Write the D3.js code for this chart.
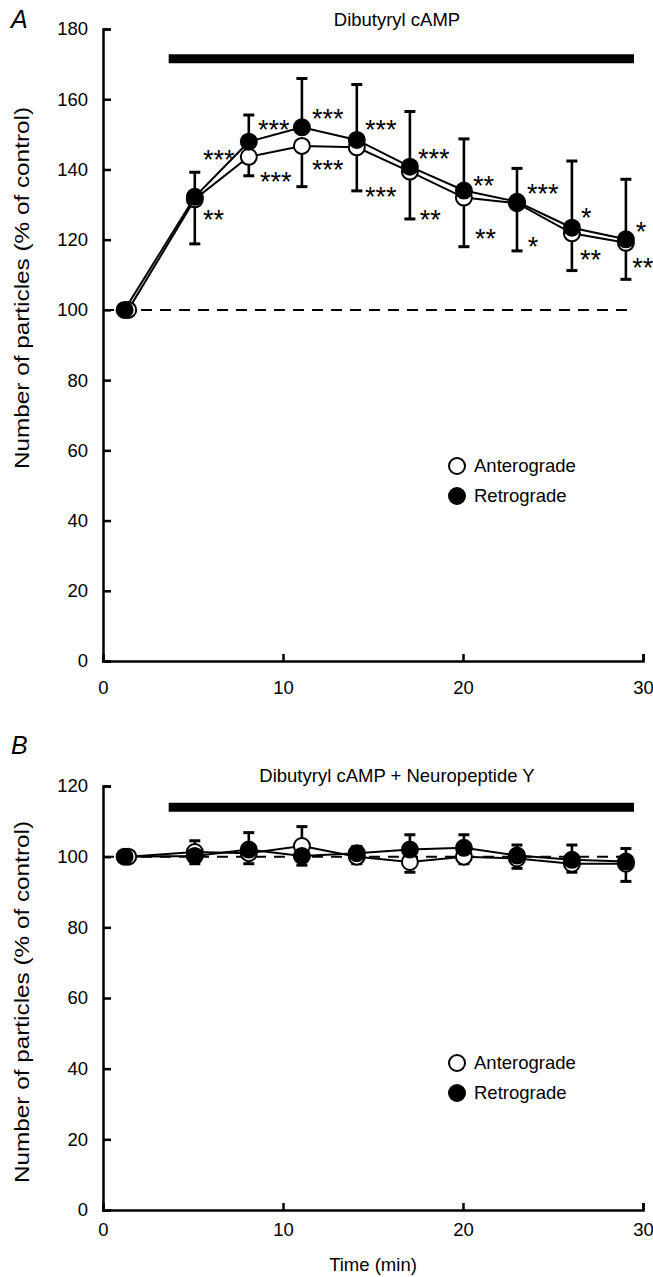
<!DOCTYPE html>
<html>
<head>
<meta charset="utf-8">
<script src="https://cdn.jsdelivr.net/npm/d3@7"></script>
<style>
  html, body { margin: 0; padding: 0; background: #fff; }
  svg { display: block; }
  text { fill: #000; }
</style>
</head>
<body>
<svg id="chart" width="653" height="1277"></svg>
<script>
// ---------------- DATA ----------------
const timesRetro  = [1.2, 5.1, 8.1, 11.05, 14.1, 17.05, 20.05, 23, 26.05, 29.05];
const timesAntero = [1.4, 5.1, 8.1, 11.05, 14.1, 17.05, 20.05, 23, 26.05, 29.05];

// Panel A: Dibutyryl cAMP
const aRetro        = [100, 132.2, 147.9, 152.0, 148.4, 140.8, 134.0, 130.8, 123.4, 120.1];
const aRetroErrUp   = [0, 7.0, 7.6, 13.9, 15.8, 15.7, 14.7, 9.5, 19.0, 17.1];
const aAntero       = [100, 131.5, 143.6, 146.7, 146.3, 139.4, 132.0, 130.4, 121.8, 119.1];
const aAnteroErrDn  = [0, 12.7, 5.4, 11.6, 12.4, 13.5, 14.0, 13.6, 10.6, 10.4];
// significance annotations (anchored in data units: time, value)
const aSigRetro  = [
  {t: 5.56, v: 144.7, s: "***"}, {t: 8.61, v: 153.2, s: "***"}, {t: 11.61, v: 156.4, s: "***"},
  {t: 14.56, v: 153.2, s: "***"}, {t: 17.5, v: 145.0, s: "***"}, {t: 20.56, v: 137.3, s: "**"},
  {t: 23.56, v: 135.0, s: "***"}, {t: 26.56, v: 128.2, s: "*"}, {t: 29.6, v: 124.2, s: "*"}
];
const aSigAntero = [
  {t: 5.56, v: 127.6, s: "**"}, {t: 8.72, v: 138.4, s: "***"}, {t: 11.61, v: 141.9, s: "***"},
  {t: 14.56, v: 134.2, s: "***"}, {t: 17.6, v: 127.6, s: "**"}, {t: 20.67, v: 122.2, s: "**"},
  {t: 23.6, v: 120.0, s: "*"}, {t: 26.5, v: 116.2, s: "**"}, {t: 29.4, v: 114.0, s: "**"}
];

// Panel B: Dibutyryl cAMP + Neuropeptide Y
const bRetro        = [100, 100.2, 102.0, 100.2, 101.0, 102.0, 102.5, 100.3, 99.1, 98.6];
const bRetroErrUp   = [0, 4.3, 4.8, 8.3, 1.9, 4.2, 3.7, 3.0, 4.2, 3.7];
const bAntero       = [100, 101.3, 101.0, 103.0, 100.0, 98.5, 100.0, 99.5, 98.0, 98.0];
const bAnteroErrDn  = [0, 3.3, 3.0, 5.4, 2.0, 2.9, 2.0, 2.8, 2.4, 5.0];

const xTicks  = [0, 10, 20, 30];
const aYTicks = [0, 20, 40, 60, 80, 100, 120, 140, 160, 180];
const bYTicks = [0, 20, 40, 60, 80, 100, 120];
const treatmentSpan = [3.65, 29.5];
const seriesNames = ["Anterograde", "Retrograde"];

// ---------------- DRAW ----------------
const svg = d3.select("#chart");
const FONT = 18.5;
const FAM = '"Liberation Sans", Arial, sans-serif';

function panel(opts) {
  const g = svg.append("g").attr("font-family", FAM);
  const x = d3.scaleLinear().domain([0, 30]).range([103, 643]);
  const y = d3.scaleLinear().domain([0, opts.yMax]).range(opts.yRange);

  g.append("text").attr("x", 11).attr("y", opts.letterY)
    .attr("font-size", 25).attr("font-style", "italic").text(opts.letter);
  g.append("text").attr("x", 397).attr("y", opts.titleY)
    .attr("text-anchor", "middle").attr("font-size", FONT).text(opts.title);

  // treatment bar
  g.append("line")
    .attr("x1", x(treatmentSpan[0])).attr("x2", x(treatmentSpan[1]))
    .attr("y1", y(opts.barV)).attr("y2", y(opts.barV))
    .attr("stroke", "#000").attr("stroke-width", 9);

  // axes
  const yAxis = d3.axisLeft(y).tickValues(opts.yTicks).tickSize(-8).tickPadding(15);
  const ya = g.append("g").attr("transform", "translate(103,0)").call(yAxis);
  const xAxis = d3.axisBottom(x).tickValues(xTicks).tickSize(-7).tickPadding(opts.xPad);
  const xa = g.append("g").attr("transform", `translate(0,${opts.yRange[0]})`).call(xAxis);
  [ya, xa].forEach(a => {
    a.selectAll("path.domain").attr("stroke", "#000").attr("stroke-width", 2.5);
    a.selectAll(".tick line").attr("stroke", "#000").attr("stroke-width", 2.5);
    a.selectAll(".tick text").attr("font-size", FONT).attr("font-family", FAM).attr("fill", "#000");
  });

  // y axis label
  g.append("text").attr("transform", `translate(29,${opts.yLabelMid}) rotate(-90)`)
    .attr("text-anchor", "middle").attr("font-size", 20)
    .attr("textLength", 362).attr("lengthAdjust", "spacingAndGlyphs")
    .text("Number of particles (% of control)");

  // control dashed line
  g.append("line")
    .attr("x1", x(0)).attr("x2", x(treatmentSpan[1]))
    .attr("y1", y(100)).attr("y2", y(100))
    .attr("stroke", "#000").attr("stroke-width", 2).attr("stroke-dasharray", "11,8");

  const retro = timesRetro.map((t, i) => ({t, v: opts.retro[i], e: opts.retroErr[i]}));
  const antero = timesAntero.map((t, i) => ({t, v: opts.antero[i], e: opts.anteroErr[i]}));

  const cap = 5.5;
  function errBars(data, dir) {
    const eg = g.append("g").attr("stroke", "#000").attr("stroke-width", 2.6);
    data.filter(d => d.e > 0).forEach(d => {
      const end = d.v + dir * d.e;
      eg.append("line").attr("x1", x(d.t)).attr("x2", x(d.t))
        .attr("y1", y(d.v)).attr("y2", y(end));
      eg.append("line").attr("x1", x(d.t) - cap).attr("x2", x(d.t) + cap)
        .attr("y1", y(end)).attr("y2", y(end)).attr("stroke-width", 3);
    });
  }
  errBars(retro, 1);
  errBars(antero, -1);

  const line = d3.line().x(d => x(d.t)).y(d => y(d.v));
  g.append("path").datum(antero).attr("d", line)
    .attr("fill", "none").attr("stroke", "#000").attr("stroke-width", 2);
  g.append("path").datum(retro).attr("d", line)
    .attr("fill", "none").attr("stroke", "#000").attr("stroke-width", 2);

  const R = 8;
  g.append("g").selectAll("circle").data(antero).join("circle")
    .attr("cx", d => x(d.t)).attr("cy", d => y(d.v)).attr("r", R)
    .attr("fill", "#fff").attr("stroke", "#000").attr("stroke-width", 2);
  g.append("g").selectAll("circle").data(retro).join("circle")
    .attr("cx", d => x(d.t)).attr("cy", d => y(d.v)).attr("r", R)
    .attr("fill", "#000").attr("stroke", "#000").attr("stroke-width", 2);

  if (opts.sig) {
    opts.sig.forEach(list => {
      g.append("g").selectAll("text").data(list).join("text")
        .attr("x", d => x(d.t)).attr("y", d => y(d.v)).attr("dy", "0.6em")
        .attr("font-family", FAM).attr("font-size", 27)
        .text(d => d.s);
    });
  }

  const lg = g.append("g");
  seriesNames.forEach((name, i) => {
    const cy = opts.legendY + i * 30;
    lg.append("circle").attr("cx", 457).attr("cy", cy).attr("r", R)
      .attr("fill", i === 0 ? "#fff" : "#000").attr("stroke", "#000").attr("stroke-width", 2);
    lg.append("text").attr("x", 474).attr("y", cy).attr("dy", "0.35em")
      .attr("font-size", FONT).text(name);
  });

  if (opts.xLabel) {
    g.append("text").attr("x", 373).attr("y", opts.xLabelY)
      .attr("text-anchor", "middle").attr("font-size", FONT).text(opts.xLabel);
  }
}

panel({
  letter: "A", letterY: 28, title: "Dibutyryl cAMP", titleY: 26,
  yMax: 180, yRange: [661, 29], yTicks: aYTicks, xPad: 20, barV: 171.5,
  retro: aRetro, retroErr: aRetroErrUp, antero: aAntero, anteroErr: aAnteroErrDn,
  sig: [aSigRetro, aSigAntero], legendY: 466, yLabelMid: 288
});
panel({
  letter: "B", letterY: 754, title: "Dibutyryl cAMP + Neuropeptide Y", titleY: 782,
  yMax: 120, yRange: [1210, 786], yTicks: bYTicks, xPad: 13, barV: 114,
  retro: bRetro, retroErr: bRetroErrUp, antero: bAntero, anteroErr: bAnteroErrDn,
  sig: null, legendY: 1063, xLabel: "Time (min)", xLabelY: 1271, yLabelMid: 1002
});
</script>
</body>
</html>
